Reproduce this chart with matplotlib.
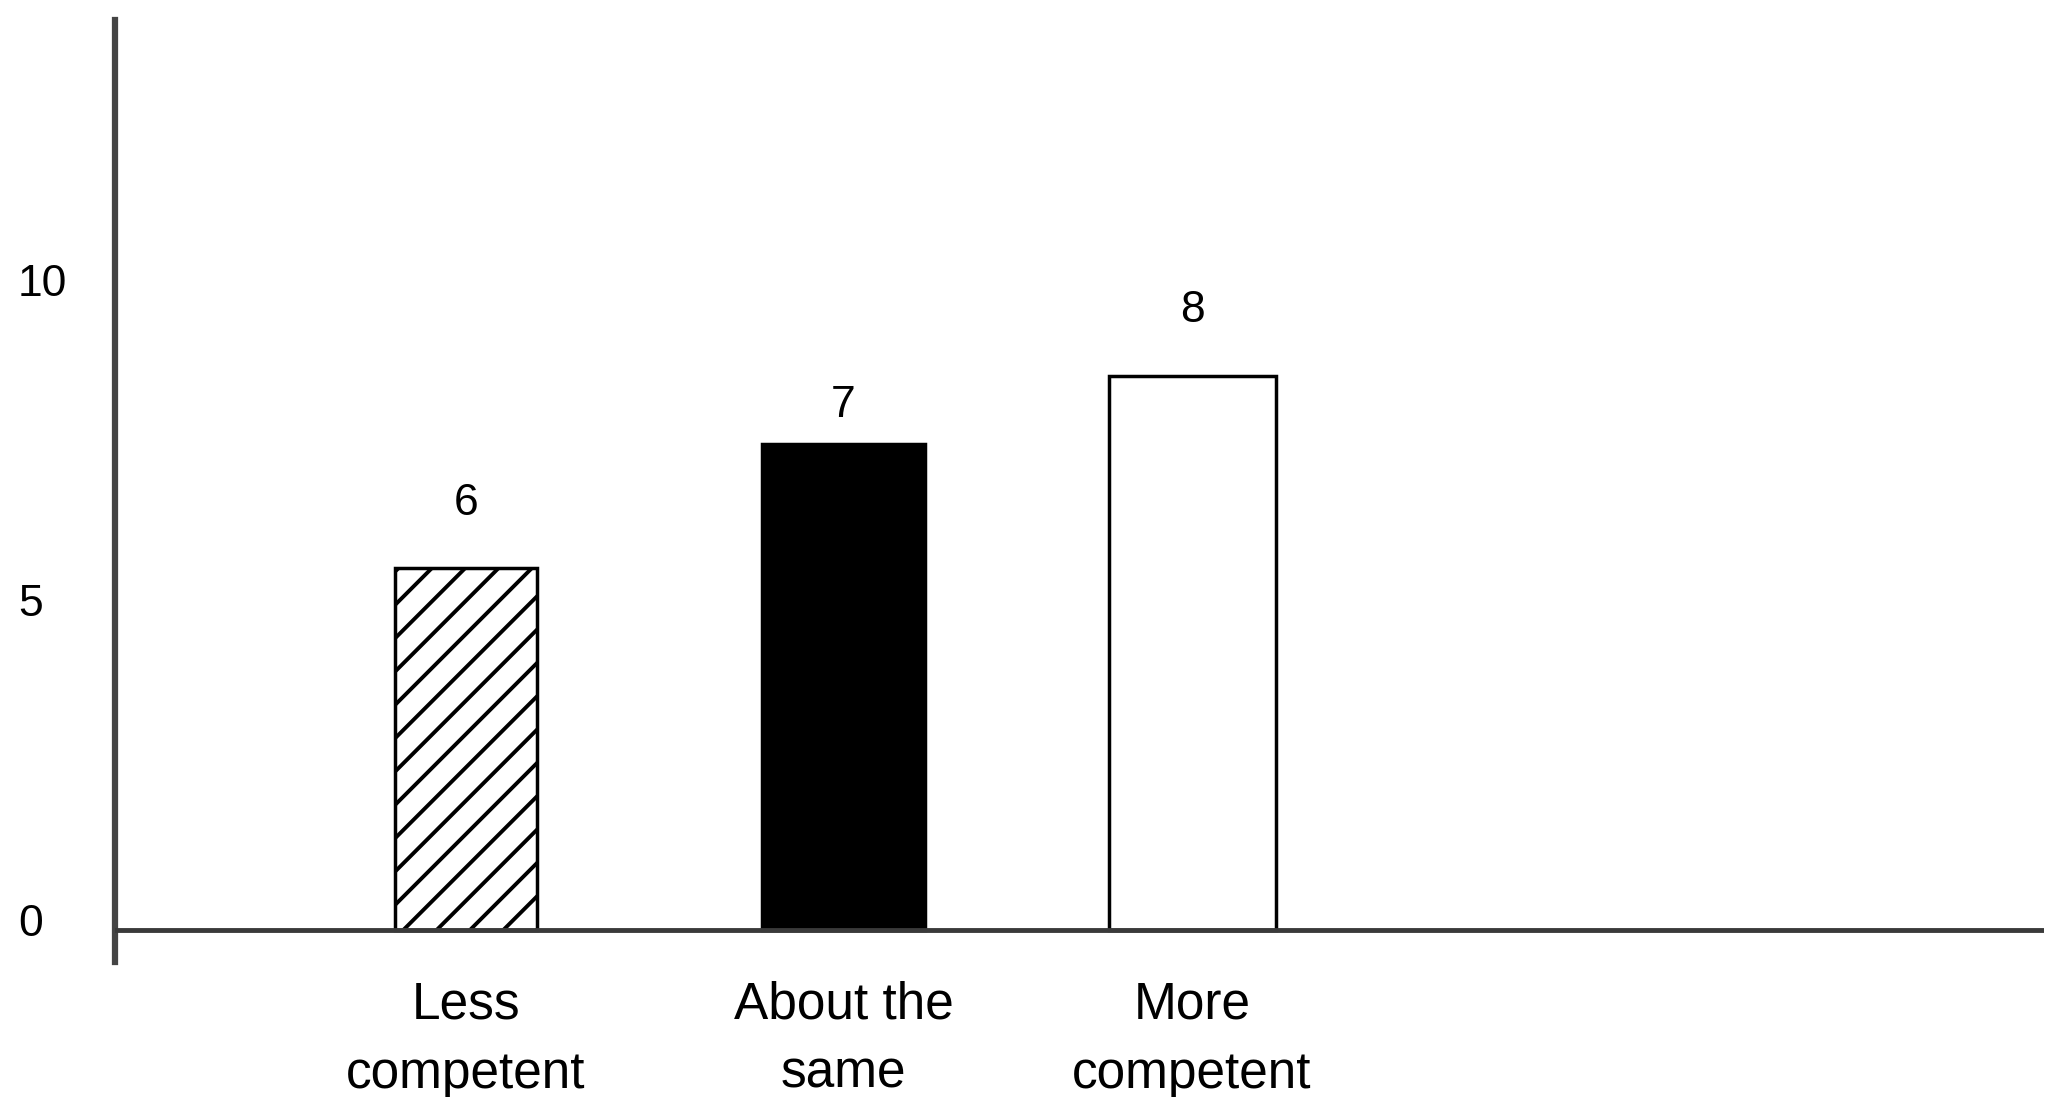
import matplotlib
matplotlib.use("Agg")
from matplotlib import pyplot as plt
from matplotlib.transforms import ScaledTranslation

# values
categories = ["Less\ncompetent", "About the\nsame", "More\ncompetent"]
heights = [5.65, 7.6, 8.65]
value_labels = ["6", "7", "8"]
yticks = [0, 5, 10]

plt.rcParams['font.family'] = ['Liberation Sans', 'DejaVu Sans']
plt.rcParams['hatch.linewidth'] = 2.8

fig = plt.figure(figsize=(20.48, 10.97), dpi=100)
ax = fig.add_axes([0.0562, 0.1231, 0.9418, 0.8587])

# bar layout (positions/widths in axis units, slightly uneven like the original)
xpos = [0, 1.04, 2.0]
widths = [0.39, 0.45, 0.46]
faces = ['white', 'black', 'white']
bars = ax.bar(xpos, heights, width=widths, color=faces, edgecolor='black',
              linewidth=2.5, zorder=2)
bars[0].set_hatch('/')

# numbers above bars, offsets in pixels
label_px = [65, 38, 66]
for b, txt, off in zip(bars, value_labels, label_px):
    ax.annotate(txt, (b.get_x() + b.get_width() / 2, b.get_height()),
                xytext=(0, off * 0.72), textcoords='offset points',
                ha='center', va='center', fontsize=32)

# baseline drawn over the bar bottoms
ax.axhline(0, color='#3a3a3a', lw=3.5, zorder=3)

ax.set_xlim(-0.967, 4.347)
ax.set_ylim(-0.5, 14.22)

ax.set_xticks(xpos)
ax.set_xticklabels(categories, fontsize=37, linespacing=1.55)
ax.set_yticks(yticks)
ax.set_yticklabels([str(t) for t in yticks], fontsize=32)
ax.tick_params(axis='x', length=0, pad=13)
ax.tick_params(axis='y', length=0, pad=70)
for lbl in ax.get_yticklabels():
    lbl.set_horizontalalignment('left')
    lbl.set_transform(lbl.get_transform() + ScaledTranslation(0, 0.1, fig.dpi_scale_trans))

for s in ['top', 'right', 'bottom']:
    ax.spines[s].set_visible(False)
ax.spines['left'].set_color('#444444')
ax.spines['left'].set_linewidth(4.5)

fig.savefig('out.png', dpi=100)
